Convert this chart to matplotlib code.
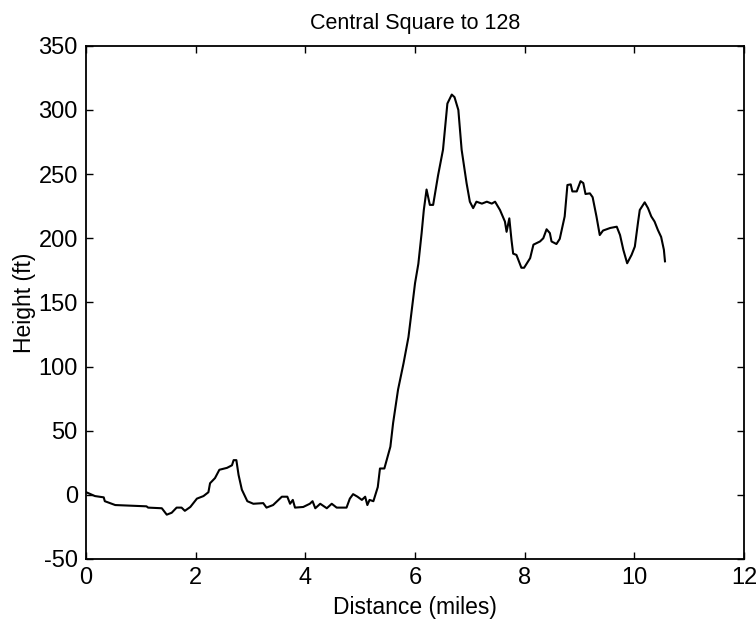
import matplotlib
matplotlib.use("Agg")
import matplotlib.pyplot as plt

# elevation profile (miles, feet)
distance = [
    0.00, 0.16, 0.32, 0.34, 0.53, 1.10, 1.13, 1.38, 1.47, 1.56, 1.65, 1.74,
    1.80, 1.90, 2.02, 2.14, 2.23, 2.26, 2.35, 2.43, 2.57, 2.66, 2.69, 2.74,
    2.78, 2.84, 2.94, 3.05, 3.23, 3.29, 3.41, 3.57, 3.67, 3.72, 3.77, 3.81,
    3.96, 4.08, 4.13, 4.18, 4.27, 4.39, 4.48, 4.57, 4.75, 4.81, 4.87, 4.95,
    5.03, 5.09, 5.13, 5.17, 5.24, 5.32, 5.36, 5.44, 5.55, 5.60, 5.69, 5.79,
    5.88, 5.94, 6.00, 6.06, 6.12, 6.16, 6.21, 6.27, 6.33, 6.42, 6.51, 6.59,
    6.67, 6.72, 6.79, 6.85, 6.94, 7.00, 7.06, 7.12, 7.22, 7.31, 7.40, 7.46,
    7.55, 7.64, 7.67, 7.72, 7.76, 7.79, 7.85, 7.94, 7.99, 8.10, 8.16, 8.28,
    8.34, 8.40, 8.46, 8.49, 8.58, 8.64, 8.73, 8.78, 8.84, 8.87, 8.95, 9.02,
    9.07, 9.11, 9.19, 9.24, 9.31, 9.37, 9.43, 9.56, 9.68, 9.74, 9.80, 9.87,
    9.95, 10.01, 10.07, 10.10, 10.19, 10.25, 10.31, 10.37, 10.43, 10.49,
    10.54, 10.56,
]
height = [
    2, -1, -2, -5, -8, -9, -10, -10.5, -15.5, -14, -10, -10,
    -12.5, -9.5, -3, -1, 2, 9, 13, 19.5, 21, 23, 27, 27,
    15.5, 4, -5, -7, -6.5, -10, -8, -1.5, -1.5, -7, -4, -10,
    -9.5, -7, -5, -10.5, -7, -10.5, -7, -10, -10, -3, 0.5, -1.5,
    -4, -1.5, -8, -4, -5, 6, 20.5, 20.5, 37.5, 56, 82, 102.5,
    123, 144, 165, 180, 204, 222, 238, 226, 226, 249, 269, 305,
    312, 310, 300, 269, 243, 228.5, 223.5, 228.5, 227, 228.5, 227, 228.5,
    222, 213, 205, 215.5, 198.5, 188, 187, 177, 177, 184.5, 195, 197.5,
    200, 207, 204, 197.5, 195.5, 199.5, 217, 241.5, 242, 236.5, 236.5, 244.5,
    243, 234.5, 235, 232, 217, 202.5, 206, 208, 209, 202.5, 191, 180.5,
    187, 193.5, 213, 222, 228, 223.5, 217, 213, 206.5, 201,
    191, 182,
]

x_ticks = [0, 2, 4, 6, 8, 10, 12]
y_ticks = [-50, 0, 50, 100, 150, 200, 250, 300, 350]

plt.rcParams["font.family"] = ["Liberation Sans", "DejaVu Sans"]
plt.rcParams["axes.unicode_minus"] = False  # plain hyphen like the original

fig = plt.figure(figsize=(7.56, 6.28), dpi=100)
ax = fig.add_axes([0.114, 0.110, 0.870, 0.817])

ax.plot(distance, height, color="black", linewidth=1.5)

ax.set_xlim(0, 12)
ax.set_ylim(-50, 350)
ax.set_xticks(x_ticks)
ax.set_yticks(y_ticks)
ax.tick_params(direction="in", top=True, right=True, length=5, width=1,
               labelsize=17, pad=6)
for spine in ax.spines.values():
    spine.set_linewidth(1.3)

ax.set_title("Central Square to 128", fontsize=15.5, pad=12)
ax.set_xlabel("Distance (miles)", fontsize=16.5, labelpad=5)
ax.set_ylabel("Height (ft)", fontsize=16.5, labelpad=2)

fig.savefig("out.png", dpi=100)
